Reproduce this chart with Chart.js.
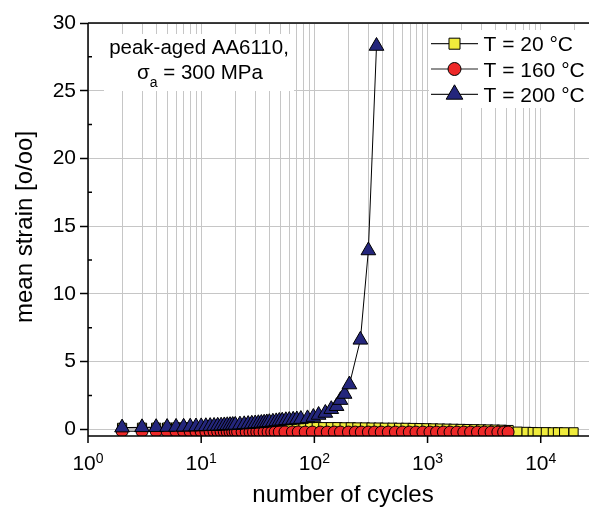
<!DOCTYPE html>
<html>
<head>
<meta charset="utf-8">
<script src="https://cdn.jsdelivr.net/npm/chart.js@4.4.0/dist/chart.umd.min.js"></script>
<style>
  html, body { margin: 0; padding: 0; background: #fff; overflow: hidden; }
  canvas { display: block; }
</style>
</head>
<body>
<canvas id="chart" width="589" height="511"></canvas>
<script>
// T = 20 °C
const cycles20 = [2, 3, 4, 5, 6, 7, 8, 9, 10, 12, 14, 16, 18, 20, 23, 26, 30, 35, 40, 46, 53, 60, 70, 80,
    92, 105, 120, 140, 160, 185, 210, 240, 280, 320,
    370, 420, 490, 560, 640, 740, 850, 980, 1120, 1290,
    1480, 1700, 1960, 2250, 2590, 2980, 3420, 3940, 4520, 5200,
    6250, 7500, 8500, 9400, 11100, 12800, 14200, 16100, 19500];
const strain20 = [0.10, 0.11, 0.11, 0.12, 0.12, 0.12, 0.13, 0.13, 0.13, 0.14, 0.14, 0.14, 0.15, 0.15, 0.15, 0.15, 0.16, 0.16, 0.16, 0.16, 0.16, 0.16, 0.16, 0.16,
    0.16, 0.16, 0.15, 0.15, 0.15, 0.14, 0.14, 0.13, 0.13, 0.12,
    0.12, 0.11, 0.11, 0.10, 0.10, 0.09, 0.08, 0.07, 0.06, 0.05,
    0.04, 0.03, 0.02, 0.01, 0.00, -0.01, -0.02, -0.03, -0.04, -0.06,
    -0.18, -0.20, -0.21, -0.22, -0.22, -0.23, -0.23, -0.23, -0.23];

// T = 160 °C
const cycles160 = [2, 3, 4, 5, 6, 7, 8, 9, 10, 11, 12, 13, 14, 15, 16, 17, 18, 19, 20, 21,
    23, 25, 27, 29, 31, 33, 36, 39, 42, 45, 49,
    55, 64, 72, 83, 96, 113, 130, 150, 170, 200,
    230, 260, 300, 340, 390, 450, 520, 600, 690, 790,
    910, 1050, 1200, 1380, 1580, 1820, 2090, 2400, 2760, 3170,
    3640, 4180, 4700, 5150];
const strain160 = [-0.14, -0.15, -0.15, -0.16, -0.16, -0.16, -0.17, -0.17, -0.17, -0.17, -0.18, -0.18, -0.18, -0.18, -0.18, -0.19, -0.19, -0.19, -0.19, -0.19,
    -0.19, -0.20, -0.20, -0.20, -0.20, -0.20, -0.20, -0.20, -0.20, -0.20, -0.20,
    -0.20, -0.20, -0.20, -0.21, -0.21, -0.21, -0.21, -0.21, -0.21, -0.21,
    -0.21, -0.21, -0.21, -0.21, -0.21, -0.21, -0.21, -0.21, -0.21, -0.21,
    -0.21, -0.21, -0.21, -0.21, -0.21, -0.21, -0.21, -0.21, -0.21, -0.21,
    -0.21, -0.21, -0.21, -0.21];

// T = 200 °C
const cycles200 = [2, 3, 4, 5, 6, 7, 8, 9, 10, 11, 12, 13, 14, 15, 16, 17, 18, 19, 20,
    22, 24, 26, 28, 30, 32, 34, 36, 38, 40,
    43, 46, 49, 52, 56, 60, 65, 70, 76,
    87, 98, 109, 125, 141, 157, 170, 185, 204,
    255, 300, 354];
const strain200 = [0.12, 0.14, 0.15, 0.16, 0.17, 0.18, 0.19, 0.20, 0.21, 0.22, 0.23, 0.24, 0.25, 0.26, 0.28, 0.29, 0.30, 0.31, 0.32,
    0.34, 0.36, 0.38, 0.40, 0.42, 0.44, 0.46, 0.48, 0.50, 0.52,
    0.55, 0.58, 0.61, 0.63, 0.66, 0.68, 0.70, 0.72, 0.75,
    0.80, 0.90, 1.05, 1.20, 1.48, 1.70, 2.15, 2.60, 3.30,
    6.60, 13.2, 28.3];

const seriesLabels = ['T = 20 °C', 'T = 160 °C', 'T = 200 °C'];
const yTicks = [0, 5, 10, 15, 20, 25, 30];
const yMinor = [2.5, 7.5, 12.5, 17.5, 22.5, 27.5];
const xDecades = [1, 10, 100, 1000, 10000];
const xExponents = ['0', '1', '2', '3', '4'];

const FONT = '"Liberation Sans", Arial, Helvetica, sans-serif';
const markers = [
    { style: 'rect', fill: '#f0ec3c', radius: 6.5, legendRadius: 7.8 },
    { style: 'circle', fill: '#ee2828', radius: 6, legendRadius: 6.5 },
    { style: 'triangle', fill: '#24267c', radius: 8.5, legendRadius: 9.6 }
];

function toPoints(xs, ys) {
    return xs.map((v, i) => ({ x: v, y: ys[i] }));
}

function drawMarker(ctx, style, r, px, py) {
    ctx.beginPath();
    if (style === 'rect') {
        const h = r * Math.SQRT1_2;
        ctx.rect(px - h, py - h, 2 * h, 2 * h);
    } else if (style === 'circle') {
        ctx.arc(px, py, r, 0, Math.PI * 2);
    } else {
        const s = r * Math.sin(Math.PI / 3);
        ctx.moveTo(px, py - r);
        ctx.lineTo(px + s, py + r / 2);
        ctx.lineTo(px - s, py + r / 2);
        ctx.closePath();
    }
    ctx.fill();
    ctx.stroke();
}

const decorations = {
    id: 'decorations',
    beforeDatasetsDraw(chart) {
        const ctx = chart.ctx;
        ctx.save();
        ctx.fillStyle = '#fff';
        ctx.fillRect(104, 34, 190, 57);
        ctx.fillRect(429, 30, 160, 78);
        ctx.restore();
    },
    afterDraw(chart) {
        const { ctx, chartArea: a, scales: { x, y } } = chart;
        ctx.save();

        // frame, minor y ticks, decade x ticks
        ctx.strokeStyle = '#000';
        ctx.lineWidth = 1.5;
        ctx.beginPath();
        ctx.moveTo(a.left, a.bottom); ctx.lineTo(a.right, a.bottom);
        ctx.moveTo(a.left, a.bottom); ctx.lineTo(a.left, a.top);
        ctx.moveTo(a.left, a.top); ctx.lineTo(a.right, a.top);
        yMinor.forEach(v => {
            const py = y.getPixelForValue(v);
            ctx.moveTo(a.left, py); ctx.lineTo(a.left + 4, py);
        });
        xDecades.forEach(v => {
            const px = x.getPixelForValue(v);
            ctx.moveTo(px, a.bottom); ctx.lineTo(px, a.bottom + 7);
        });
        ctx.stroke();

        // x tick labels 10^n
        ctx.fillStyle = '#000';
        ctx.textBaseline = 'alphabetic';
        ctx.textAlign = 'left';
        xDecades.forEach((v, k) => {
            const px = x.getPixelForValue(v);
            ctx.font = '21px ' + FONT;
            const wb = ctx.measureText('10').width;
            ctx.font = '14px ' + FONT;
            const we = ctx.measureText(xExponents[k]).width;
            const start = px - (wb + we) / 2;
            ctx.font = '21px ' + FONT;
            ctx.fillText('10', start, 470);
            ctx.font = '14px ' + FONT;
            ctx.fillText(xExponents[k], start + wb, 462.5);
        });

        // axis titles
        ctx.font = '24px ' + FONT;
        ctx.textAlign = 'center';
        ctx.fillText('number of cycles', 343, 502);
        ctx.save();
        ctx.translate(32, 227);
        ctx.rotate(-Math.PI / 2);
        ctx.fillText('mean strain [o/oo]', 0, 0);
        ctx.restore();

        // annotation
        ctx.font = '20.5px ' + FONT;
        ctx.textAlign = 'center';
        ctx.fillText('peak-aged AA6110,', 199, 54);
        ctx.textAlign = 'left';
        const ws = ctx.measureText('σ').width;
        const wr = ctx.measureText(' = 300 MPa').width;
        ctx.font = '14px ' + FONT;
        const wa = ctx.measureText('a').width;
        const sx = 200 - (ws + wa + wr) / 2;
        ctx.font = '20.5px ' + FONT;
        ctx.fillText('σ', sx, 79);
        ctx.font = '14px ' + FONT;
        ctx.fillText('a', sx + ws, 87);
        ctx.font = '20.5px ' + FONT;
        ctx.fillText(' = 300 MPa', sx + ws + wa, 79);

        // legend
        const rows = [43.7, 69, 94.4];
        ctx.font = '21px ' + FONT;
        seriesLabels.forEach((label, i) => {
            const ry = rows[i];
            ctx.strokeStyle = '#222';
            ctx.lineWidth = 1.2;
            ctx.beginPath();
            ctx.moveTo(431, ry); ctx.lineTo(478, ry);
            ctx.stroke();
            ctx.fillStyle = markers[i].fill;
            ctx.strokeStyle = '#000';
            ctx.lineWidth = 1;
            drawMarker(ctx, markers[i].style, markers[i].legendRadius, 454.5, ry);
            ctx.fillStyle = '#000';
            ctx.fillText(label, 483.5, ry + 7.5);
        });

        ctx.restore();
    }
};

function makeDataset(i, xs, ys, order) {
    return {
        label: seriesLabels[i],
        data: toPoints(xs, ys),
        order: order,
        borderColor: '#000',
        borderWidth: 1,
        pointStyle: markers[i].style,
        pointRadius: markers[i].radius,
        pointBackgroundColor: markers[i].fill,
        pointBorderColor: '#000',
        pointBorderWidth: 1,
        tension: 0,
        fill: false,
        clip: { left: 20, top: 20, right: 20, bottom: 0 }
    };
}

new Chart(document.getElementById('chart'), {
    type: 'line',
    data: {
        datasets: [
            makeDataset(0, cycles20, strain20, 3),
            makeDataset(1, cycles160, strain160, 2),
            makeDataset(2, cycles200, strain200, 1)
        ]
    },
    options: {
        responsive: false,
        animation: false,
        events: [],
        layout: { autoPadding: false, padding: { top: 23, right: 0, left: 0, bottom: 0 } },
        plugins: {
            legend: { display: false },
            tooltip: { enabled: false }
        },
        scales: {
            x: {
                type: 'logarithmic',
                min: 1,
                max: 26700,
                afterBuildTicks: scale => {
                    const ticks = [];
                    xDecades.forEach(d => {
                        for (let m = 1; m <= 9; m++) {
                            if (d * m < 26700) ticks.push({ value: d * m });
                        }
                    });
                    scale.ticks = ticks;
                },
                afterFit: scale => { scale.height = 75; scale.paddingLeft = 0; scale.paddingRight = 0; },
                ticks: { display: false },
                grid: { color: '#c6c6c6', lineWidth: 1, drawTicks: false },
                border: { display: false }
            },
            y: {
                min: -0.5,
                max: 30,
                afterBuildTicks: scale => {
                    scale.ticks = yTicks.map(v => ({ value: v }));
                },
                afterFit: scale => { scale.width = 88; scale.paddingTop = 0; scale.paddingBottom = 0; },
                ticks: {
                    color: '#000',
                    padding: 4,
                    font: { family: FONT, size: 21 }
                },
                grid: { color: '#c6c6c6', lineWidth: 1, tickLength: 8, tickColor: '#000', tickWidth: 1.5 },
                border: { display: false }
            }
        }
    },
    plugins: [decorations]
});
</script>
</body>
</html>
